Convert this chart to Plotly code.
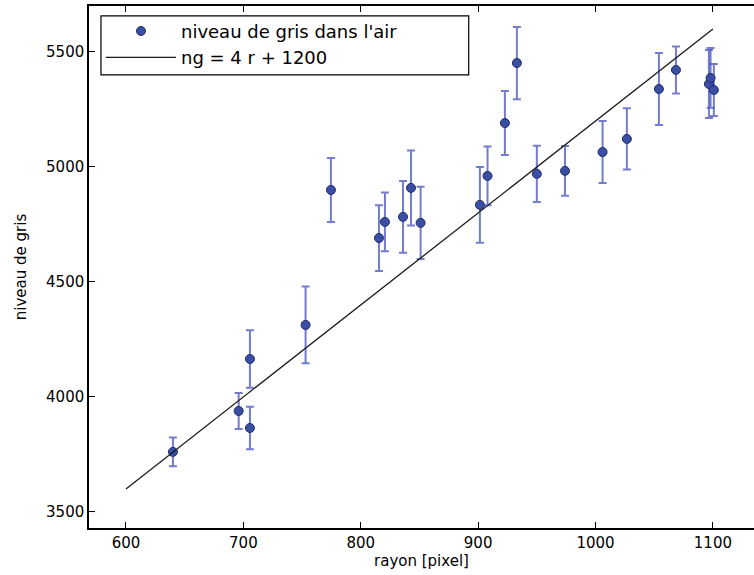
import plotly.graph_objects as go

rayon = [640, 696, 705.6, 705.6, 753, 774.6, 815.5, 820.6, 836, 842.8, 851, 901.5, 908,
         922.8, 933, 950, 974, 1006, 1026.7, 1054, 1068.5, 1096.6, 1098, 1100.8]
niveau = [3761, 3939, 4165, 3865, 4313, 4900, 4691, 4761, 4783, 4909, 4757, 4835, 4961,
          5191, 5452, 4970, 4983, 5065, 5122, 5339, 5422, 5361, 5387, 5335]
erreur = [63, 78, 125, 92, 167, 139, 143, 128, 156, 163, 157, 165, 128,
          139, 157, 122, 108, 135, 133, 157, 102, 148, 130, 113]

fit_x = [600, 1100]
fit_y = [4 * r + 1200 for r in fit_x]

xticks = [600, 700, 800, 900, 1000, 1100]
yticks = [3500, 4000, 4500, 5000, 5500]

fig = go.Figure()
fig.add_trace(go.Scatter(
    x=rayon, y=niveau, mode="markers", name="niveau de gris dans l'air",
    marker=dict(size=9, color="#3a4fa3", line=dict(color="#1f2a6b", width=1)),
    error_y=dict(type="data", array=erreur, visible=True, color="rgba(70,80,190,0.75)",
                 thickness=2, width=4),
))
fig.add_trace(go.Scatter(
    x=fit_x, y=fit_y, mode="lines", name="ng = 4 r + 1200",
    line=dict(color="#1a1a1a", width=1.3),
))

tickfont = dict(family="DejaVu Sans", size=15, color="black")
titlefont = dict(family="DejaVu Sans", size=15, color="black")
fig.update_layout(
    width=754, height=575,
    margin=dict(l=89, r=0, t=6, b=47),
    plot_bgcolor="white", paper_bgcolor="white",
    xaxis=dict(range=[568.5, 1135], tickvals=xticks,
               showgrid=False, zeroline=False, showline=True, linecolor="black", linewidth=1.5,
               mirror="ticks", ticks="inside", ticklen=6, tickcolor="black", tickfont=tickfont,
               title=dict(text="rayon [pixel]", font=titlefont, standoff=3)),
    yaxis=dict(range=[3430, 5700], tickvals=yticks,
               showgrid=False, zeroline=False, showline=True, linecolor="black", linewidth=1.5,
               mirror=False, ticks="inside", ticklen=6, tickcolor="black", tickfont=tickfont,
               title=dict(text="niveau de gris", font=titlefont, standoff=16)),
    legend=dict(x=0.018, y=0.987, xanchor="left", yanchor="top",
                borderwidth=0, bgcolor="rgba(0,0,0,0)",
                font=dict(family="DejaVu Sans", size=18, color="black"),
                itemwidth=70, tracegroupgap=0),
    showlegend=True,
)
# legend frame
fig.add_shape(type="rect", xref="paper", yref="paper",
              x0=0.018, x1=0.571, y0=0.868, y1=0.981,
              line=dict(color="black", width=1.2), fillcolor="white", layer="below")

fig.write_html("out.html")
